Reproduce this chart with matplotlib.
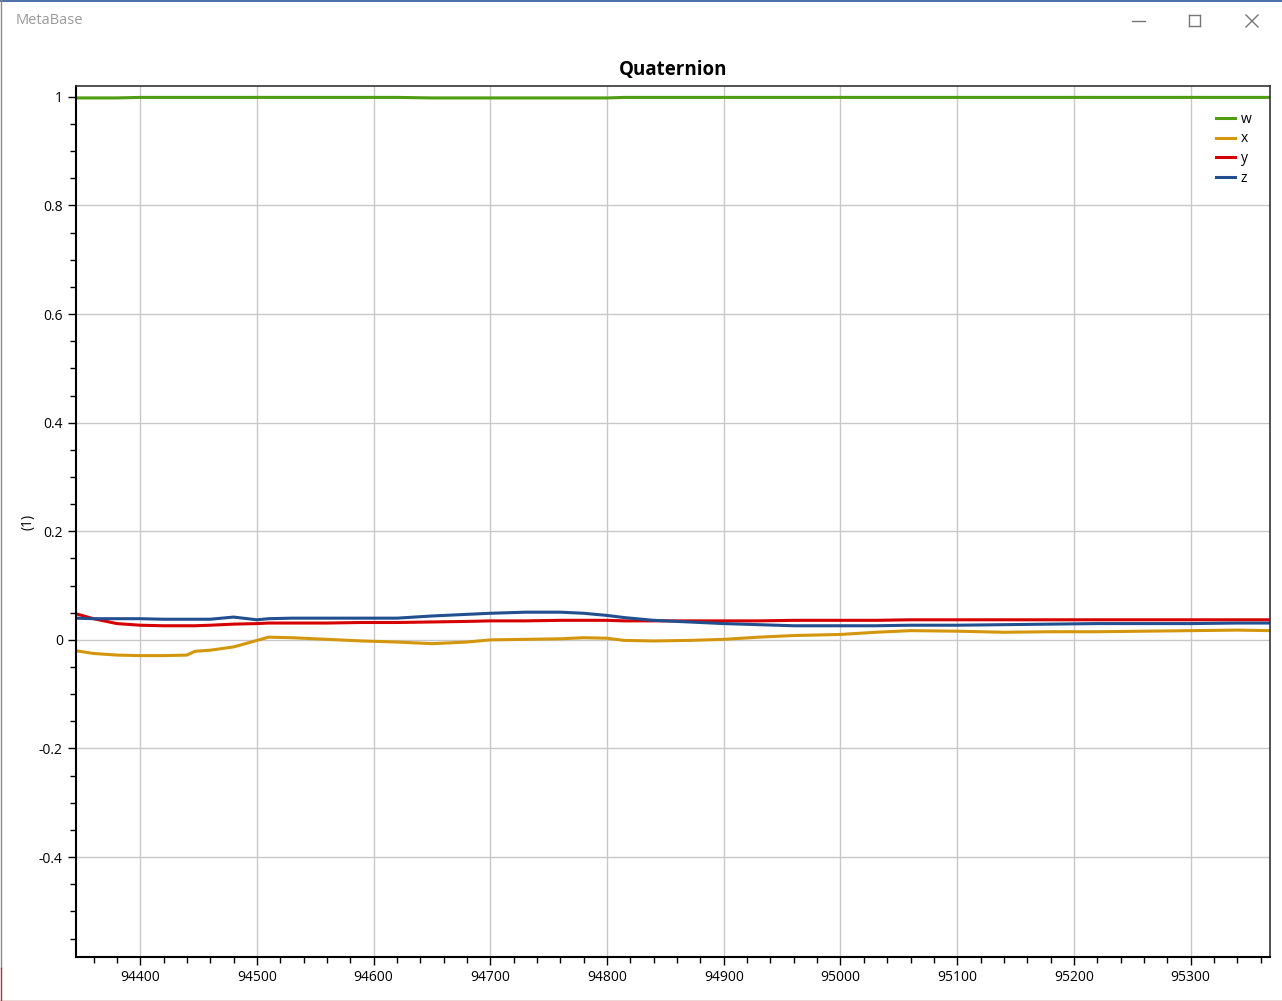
import matplotlib
matplotlib.use("Agg")
import matplotlib.pyplot as plt
from matplotlib.ticker import MultipleLocator, FuncFormatter
from matplotlib.lines import Line2D

plt.rcParams['font.family'] = ['Open Sans', 'DejaVu Sans']
plt.rcParams['axes.unicode_minus'] = False

# sample times (x axis)
t = [94345, 94360, 94380, 94400, 94420, 94440, 94447, 94460, 94480, 94500,
     94510, 94530, 94560, 94590, 94620, 94650, 94680, 94700, 94730, 94760,
     94780, 94800, 94815, 94840, 94870, 94900, 94930, 94960, 95000, 95030,
     95060, 95100, 95140, 95180, 95220, 95260, 95300, 95340, 95368]

w = [0.998, 0.998, 0.998, 0.999, 0.999, 0.999, 0.999, 0.999, 0.999, 0.999,
     0.999, 0.999, 0.999, 0.999, 0.999, 0.998, 0.998, 0.998, 0.998, 0.998,
     0.998, 0.998, 0.999, 0.999, 0.999, 0.999, 0.999, 0.999, 0.999, 0.999,
     0.999, 0.999, 0.999, 0.999, 0.999, 0.999, 0.999, 0.999, 0.999]

x = [-0.020, -0.025, -0.028, -0.029, -0.029, -0.028, -0.021, -0.019, -0.013, -0.001,
     0.005, 0.004, 0.001, -0.002, -0.004, -0.007, -0.004, 0.000, 0.001, 0.002,
     0.004, 0.003, -0.001, -0.002, -0.001, 0.001, 0.005, 0.008, 0.010, 0.014,
     0.017, 0.016, 0.014, 0.015, 0.015, 0.016, 0.017, 0.018, 0.017]

y = [0.048, 0.039, 0.030, 0.027, 0.026, 0.026, 0.026, 0.027, 0.029, 0.030,
     0.031, 0.031, 0.031, 0.032, 0.032, 0.033, 0.034, 0.035, 0.035, 0.036,
     0.036, 0.036, 0.035, 0.035, 0.035, 0.035, 0.035, 0.036, 0.036, 0.036,
     0.037, 0.037, 0.037, 0.037, 0.037, 0.037, 0.037, 0.037, 0.037]

z = [0.040, 0.039, 0.039, 0.039, 0.038, 0.038, 0.038, 0.038, 0.042, 0.037,
     0.039, 0.040, 0.040, 0.040, 0.040, 0.044, 0.047, 0.049, 0.051, 0.051,
     0.049, 0.045, 0.041, 0.036, 0.033, 0.030, 0.028, 0.026, 0.026, 0.026,
     0.027, 0.027, 0.028, 0.029, 0.030, 0.030, 0.030, 0.031, 0.031]

series = [("w", w, "#4f9e12"), ("x", x, "#d4960c"), ("y", y, "#d60000"), ("z", z, "#214f8f")]

fig = plt.figure(figsize=(12.82, 10.01), dpi=100)
ax = fig.add_axes([76/1282, 44/1001, 1194/1282, 871/1001])

for name, vals, col in series:
    ax.plot(t, vals, color=col, lw=2.2, label=name)

ax.set_xlim(94345, 95368)
ax.set_ylim(-0.584, 1.02)
ax.xaxis.set_major_locator(MultipleLocator(100))
ax.xaxis.set_minor_locator(MultipleLocator(20))
ax.yaxis.set_major_locator(MultipleLocator(0.2))
ax.yaxis.set_minor_locator(MultipleLocator(0.05))
ax.yaxis.set_major_formatter(FuncFormatter(lambda v, p: "%g" % round(v, 2)))
ax.tick_params(which='major', direction='out', length=6, width=1, labelsize=10, color='black')
ax.tick_params(which='minor', direction='out', length=4, width=1, color='black')
ax.grid(True, which='major', color='#c8c8c8', lw=1)
ax.set_axisbelow(True)

for side in ['left', 'bottom']:
    ax.spines[side].set_color('black')
    ax.spines[side].set_linewidth(1.5)
for side in ['top', 'right']:
    ax.spines[side].set_color('#333333')
    ax.spines[side].set_linewidth(1.2)

ax.set_title("Quaternion", fontsize=13.5, fontweight='bold', pad=8)
ax.set_ylabel("(1)", fontsize=10)
ax.yaxis.set_label_coords(-0.034, 0.5)

ax.legend(loc='upper right', frameon=False, fontsize=10, handlelength=1.4,
          handletextpad=0.4, labelspacing=0.35, bbox_to_anchor=(0.995, 0.985))

# window chrome
fig.text(16/1282, 1 - 21/1001, "MetaBase", fontsize=10.5, color='#9a9a9a', va='center')
H, W = 1001.0, 1282.0
def seg(x0, y0, x1, y1, c='#777777', lw=1):
    fig.add_artist(Line2D([x0/W, x1/W], [1 - y0/H, 1 - y1/H], color=c, lw=lw))
seg(1132, 21, 1145, 21)
seg(1189, 15, 1200, 15); seg(1189, 26, 1200, 26); seg(1189, 15, 1189, 26); seg(1200, 15, 1200, 26)
seg(1246, 15, 1258, 27); seg(1246, 27, 1258, 15)
seg(0, 0.5, 1282, 0.5, c='#2b5797', lw=1.2)
seg(0.5, 0, 0.5, 968, c='#8a8a8a', lw=1)
seg(0.5, 968, 0.5, 1001, c='#b03030', lw=1)
seg(0, 1000.5, 1282, 1000.5, c='#b03030', lw=1)

fig.savefig("out.png", dpi=100)
